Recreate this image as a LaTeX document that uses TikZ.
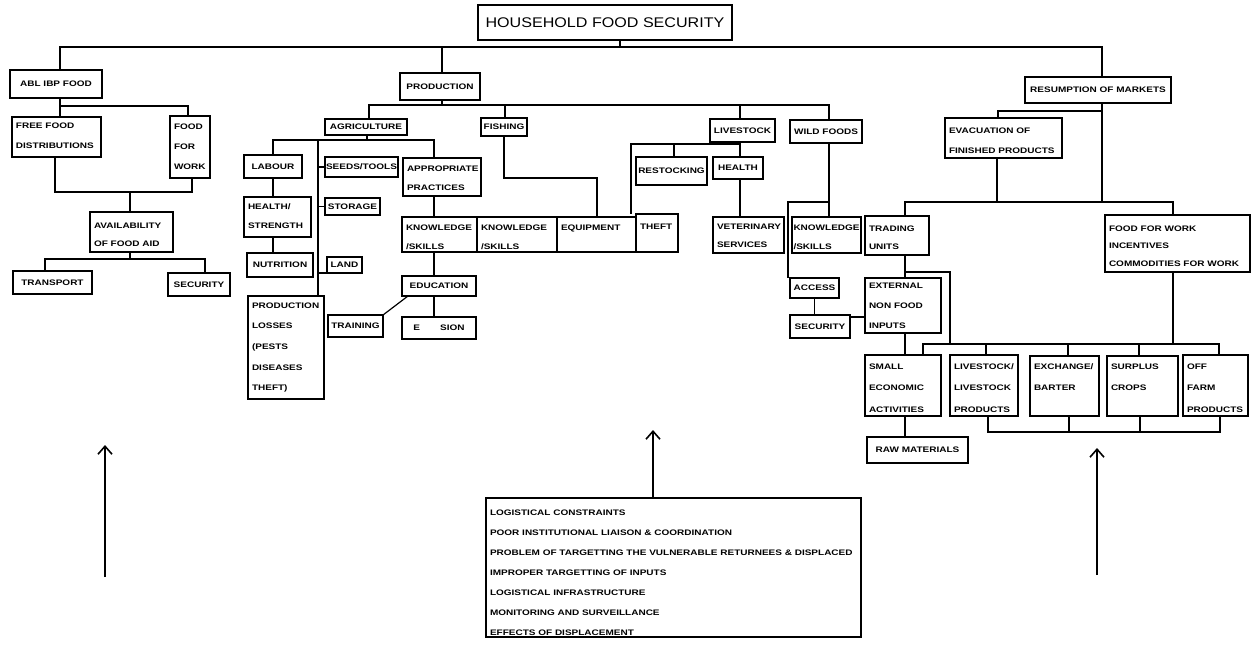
\documentclass[tikz,border=0pt]{standalone}
\usepackage{fontspec}
\usetikzlibrary{arrows.meta}
\newfontfamily\lbl{Liberation Sans}[FakeStretch=1.25]
\newfontfamily\ttl{Liberation Sans}[FakeStretch=1.15]
\tikzset{
  box/.style={draw, line width=1.4pt, inner sep=0pt, outer sep=0pt, align=center},
  ln/.style={line width=1.2pt},
  arr/.style={line width=1.6pt, -{Straight Barb[length=8pt,width=14pt,line width=1.6pt]}},
  lab/.style={font=\lbl\bfseries\fontsize{8}{9}\selectfont}
}
\newcommand\bxc[6]{\node[box,lab,minimum width={(#4-#2)*1pt},minimum height={(#5-#3)*1pt}] (#1) at ({(#2+#4)/2},{(#3+#5)/2}) {#6};}
\newcommand\bxt[8]{\node[box] (#1) at ({(#2+#4)/2},{(#3+#5)/2}) {\parbox[c][\dimexpr#5pt-#3pt\relax][t]{\dimexpr#4pt-#2pt\relax}{\lbl\bfseries\fontsize{8}{#7}\selectfont\raggedright\leftskip=4pt\parindent=0pt\rule{0pt}{#6pt}#8\par}};}
\begin{document}
\begin{tikzpicture}[x=1pt,y=-1pt]
\useasboundingbox (0,0) rectangle (1260,649);
% ---------- boxes ----------
\node[box, font=\ttl\fontsize{14}{16}\selectfont, minimum width=254pt, minimum height=35pt] (title) at (605,22.5) {HOUSEHOLD FOOD SECURITY};
\bxc{abl}{10}{70}{102}{98}{ABL IBP FOOD}
\bxt{free}{12}{117}{101}{157}{11}{20}{FREE FOOD\\DISTRIBUTIONS}
\bxt{ffw}{170}{116}{210}{178}{13.5}{20}{FOOD\\FOR\\WORK}
\bxt{avail}{90}{212}{173}{252}{16}{18.7}{AVAILABILITY\\OF FOOD AID}
\bxc{transport}{13}{271}{92}{294}{TRANSPORT}
\bxc{sec1}{168}{273}{230}{296}{SECURITY}
\bxc{prod}{400}{73}{480}{100}{PRODUCTION}
\bxc{agri}{325}{119}{407}{135}{AGRICULTURE}
\bxc{fish}{481}{118}{527}{136}{FISHING}
\bxc{live}{710}{119}{775}{142}{LIVESTOCK}
\bxc{wild}{790}{120}{862}{143}{WILD FOODS}
\bxc{labour}{244}{155}{302}{178}{LABOUR}
\bxc{seeds}{325}{157}{398}{177}{SEEDS/TOOLS}
\bxt{appr}{403}{158}{481}{196}{13}{19}{APPROPRIATE\\PRACTICES}
\bxt{health}{244}{197}{311}{237}{12.5}{19}{HEALTH/\\STRENGTH}
\bxc{storage}{325}{198}{380}{215}{STORAGE}
\bxc{nutr}{247}{253}{313}{277}{NUTRITION}
\bxc{land}{327}{257}{362}{273}{LAND}
\bxt{losses}{248}{296}{324}{399}{12}{20.7}{PRODUCTION\\LOSSES\\(PESTS\\DISEASES\\THEFT)}
\bxc{training}{328}{315}{383}{337}{TRAINING}
\bxt{ks1}{402}{217}{477}{252}{13}{19}{KNOWLEDGE\\/SKILLS}
\bxt{ks2}{477}{217}{557}{252}{13}{19}{KNOWLEDGE\\/SKILLS}
\bxt{equip}{557}{217}{636}{252}{13}{19}{EQUIPMENT}
\bxt{theft}{636}{214}{678}{252}{15}{19}{THEFT}
\bxc{edu}{402}{276}{476}{296}{EDUCATION}
\bxc{ext}{402}{317}{476}{339}{E\hspace{20pt}SION}
\bxc{rest}{636}{157}{707}{185}{RESTOCKING}
\bxc{lhealth}{713}{157}{763}{179}{HEALTH}
\bxt{vet}{713}{217}{784}{253}{12.5}{17.7}{VETERINARY\\SERVICES}
\bxt{ks3}{792}{217}{861}{253}{13}{19}{\hspace*{-2.5pt}KNOWLEDGE\\\hspace*{-2.5pt}/SKILLS}
\bxc{access}{790}{278}{839}{298}{ACCESS}
\bxc{sec2}{790}{315}{850}{338}{SECURITY}
\bxc{resm}{1025}{77}{1171}{103}{RESUMPTION OF MARKETS}
\bxt{evac}{945}{118}{1062}{158}{15.5}{20}{EVACUATION OF\\FINISHED PRODUCTS}
\bxt{trading}{865}{216}{929}{255}{15}{18.3}{TRADING\\UNITS}
\bxt{ffw2}{1105}{215}{1250}{272}{16}{17.8}{FOOD FOR WORK\\INCENTIVES\\COMMODITIES FOR WORK}
\bxt{extn}{865}{278}{941}{333}{10}{20}{EXTERNAL\\NON FOOD\\INPUTS}
\bxt{small}{865}{355}{941}{416}{14.5}{21.3}{SMALL\\ECONOMIC\\ACTIVITIES}
\bxt{lvp}{950}{355}{1018}{416}{14.5}{21.3}{LIVESTOCK/\\LIVESTOCK\\PRODUCTS}
\bxt{exch}{1030}{356}{1099}{416}{13.5}{21.3}{EXCHANGE/\\BARTER}
\bxt{surp}{1107}{356}{1178}{416}{13.5}{21.3}{SURPLUS\\CROPS}
\bxt{off}{1183}{355}{1248}{416}{14.5}{21.3}{OFF\\FARM\\PRODUCTS}
\bxc{raw}{867}{437}{968}{463}{RAW MATERIALS}
\bxt{cons}{486}{498}{861}{637}{17.5}{20}{LOGISTICAL CONSTRAINTS\\POOR INSTITUTIONAL LIAISON \& COORDINATION\\PROBLEM OF TARGETTING THE VULNERABLE RETURNEES \& DISPLACED\\IMPROPER TARGETTING OF INPUTS\\LOGISTICAL INFRASTRUCTURE\\MONITORING AND SURVEILLANCE\\EFFECTS OF DISPLACEMENT}
% ---------- junction coordinates ----------
\coordinate (tb) at (620,47); \coordinate (tbL) at (60,47); \coordinate (tbR) at (1102,47); \coordinate (tbP) at (442,47);
\coordinate (a1) at (60,106); \coordinate (a2) at (188,106);
\coordinate (a3) at (55,192); \coordinate (a4) at (192,192); \coordinate (a5) at (130,192);
\coordinate (a6) at (130,259); \coordinate (a7) at (45,259); \coordinate (a8) at (205,259);
\coordinate (p1) at (442,105); \coordinate (pL) at (369,105); \coordinate (pR) at (829,105); \coordinate (pF) at (505,105); \coordinate (pLv) at (740,105);
\coordinate (g1) at (367,140); \coordinate (gL) at (273,140); \coordinate (gR) at (434,140); \coordinate (gV) at (318,140);
\coordinate (f1) at (504,178); \coordinate (f2) at (597,178);
\coordinate (l1) at (740,144); \coordinate (l2) at (631,144); \coordinate (l3) at (674,144);
\coordinate (w1) at (829,202); \coordinate (w2) at (788,202);
\coordinate (r1) at (1102,111); \coordinate (r2) at (998,111); \coordinate (r3) at (1102,202); \coordinate (r4) at (997,202); \coordinate (rL) at (905,202); \coordinate (rR) at (1173,202);
\coordinate (t1) at (905,272); \coordinate (t2) at (950,272); \coordinate (t3) at (950,344);
\coordinate (bL) at (923,344); \coordinate (bR) at (1219,344); \coordinate (b1) at (986,344); \coordinate (b2) at (1068,344); \coordinate (b3) at (1139,344); \coordinate (b4) at (1173,344);
\coordinate (c1) at (988,432); \coordinate (c2) at (1069,432); \coordinate (c3) at (1140,432); \coordinate (c4) at (1220,432);
% ---------- connectors ----------
\begin{scope}[ln]
\draw (title.south -| tb) -- (tb);
\draw (abl.north -| tbL) -- (tbL) -- (tbR) -- (resm.north -| tbR);
\draw (tbP) -- (prod.north -| tbP);
% available food
\draw (abl.south -| a1) -- (a1) -- (a2) -- (ffw.north -| a2);
\draw (a1) -- (free.north -| a1);
\draw (free.south -| a3) -- (a3) -- (a4) -- (ffw.south -| a4);
\draw (a5) -- (avail.north -| a5);
\draw (avail.south -| a6) -- (a6);
\draw (transport.north -| a7) -- (a7) -- (a8) -- (sec1.north -| a8);
% production
\draw (prod.south -| p1) -- (p1);
\draw (agri.north -| pL) -- (pL) -- (pR) -- (wild.north -| pR);
\draw (pF) -- (fish.north -| pF);
\draw (pLv) -- (live.north -| pLv);
% agriculture
\draw (agri.south -| g1) -- (g1);
\draw (labour.north -| gL) -- (gL) -- (gR) -- (appr.north -| gR);
\draw (gV) -- (losses.north -| gV);
\draw (seeds.west) -- (seeds.west -| gV);
\draw (storage.west) -- (storage.west -| gV);
\draw (land.south west) -- (land.south west -| gV);
\draw (labour.south -| gL) -- (health.north -| gL);
\draw (health.south -| gL) -- (nutr.north -| gL);
\draw (appr.south -| gR) -- (ks1.north -| gR);
\draw (ks1.south -| gR) -- (edu.north -| gR);
\draw (edu.south -| gR) -- (ext.north -| gR);
\draw (training.north east) -- ([xshift=6pt]edu.south west);
% fishing
\draw (fish.south -| f1) -- (f1) -- (f2) -- (equip.north -| f2);
% livestock
\draw (live.south -| l1) -- (l1) -- (l2) -- (theft.north -| l2);
\draw (l3) -- (rest.north -| l3);
\draw (l1) -- (lhealth.north -| l1);
\draw (lhealth.south -| l1) -- (vet.north -| l1);
% wild foods
\draw (wild.south -| w1) -- (ks3.north -| w1);
\draw (w1) -- (w2) -- (access.north west -| w2);
\draw (access.south) -- (access.south |- sec2.north);
\draw ([yshift=9.5pt]sec2.east) -- ([yshift=9.5pt]sec2.east -| extn.west);
% markets
\draw (resm.south -| r1) -- (r3);
\draw (r1) -- (r2) -- (evac.north -| r2);
\draw (evac.south -| r4) -- (r4);
\draw (trading.north -| rL) -- (rL) -- (rR) -- (ffw2.north -| rR);
\draw (trading.south -| t1) -- (extn.north -| t1);
\draw (t1) -- (t2) -- (t3);
\draw (extn.south -| t1) -- (small.north -| t1);
\draw (small.north -| bL) -- (bL) -- (bR) -- (off.north -| bR);
\draw (b1) -- (lvp.north -| b1);
\draw (b2) -- (exch.north -| b2);
\draw (b3) -- (surp.north -| b3);
\draw (ffw2.south -| b4) -- (b4);
\draw (lvp.south -| c1) -- (c1) -- (c4) -- (off.south -| c4);
\draw (exch.south -| c2) -- (c2);
\draw (surp.south -| c3) -- (c3);
\draw (small.south -| t1) -- (raw.north -| t1);
\end{scope}
% ---------- arrows ----------
\coordinate (ar1s) at (105,577); \coordinate (ar1e) at (105,445);
\coordinate (ar2e) at (653,430);
\coordinate (ar3s) at (1097,575); \coordinate (ar3e) at (1097,448);
\draw[arr] (ar1s) -- (ar1e);
\draw[arr] (cons.north -| ar2e) -- (ar2e);
\draw[arr] (ar3s) -- (ar3e);
\end{tikzpicture}
\end{document}
